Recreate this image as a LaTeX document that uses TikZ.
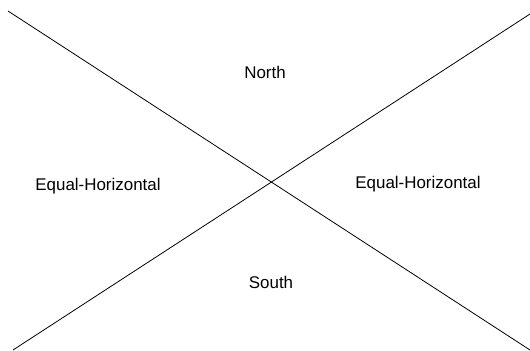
\documentclass[tikz,border=0pt]{standalone}
\usepackage{fontspec}
\setmainfont{Liberation Sans}
\usetikzlibrary{positioning}

\begin{document}
\begin{tikzpicture}[x=1bp, y=-1bp, line width=0.8bp,
    region/.style={font=\fontsize{17}{20}\selectfont, inner sep=0pt}]
  \useasboundingbox (0,0) rectangle (530,350);
  \coordinate (tl) at (8,11);
  \coordinate (br) at (530,350);
  \coordinate (bl) at (13,350);
  \coordinate (tr) at (530,14);
  \node[region] (north) at (265,72) {North};
  \node[region] (west) at (98,186) {Equal-Horizontal};
  \node[region] (east) at (418,184) {Equal-Horizontal};
  \node[region] (south) at (271,282) {South};
  \draw (tl) -- (br);
  \draw (bl) -- (tr);
\end{tikzpicture}
\end{document}
